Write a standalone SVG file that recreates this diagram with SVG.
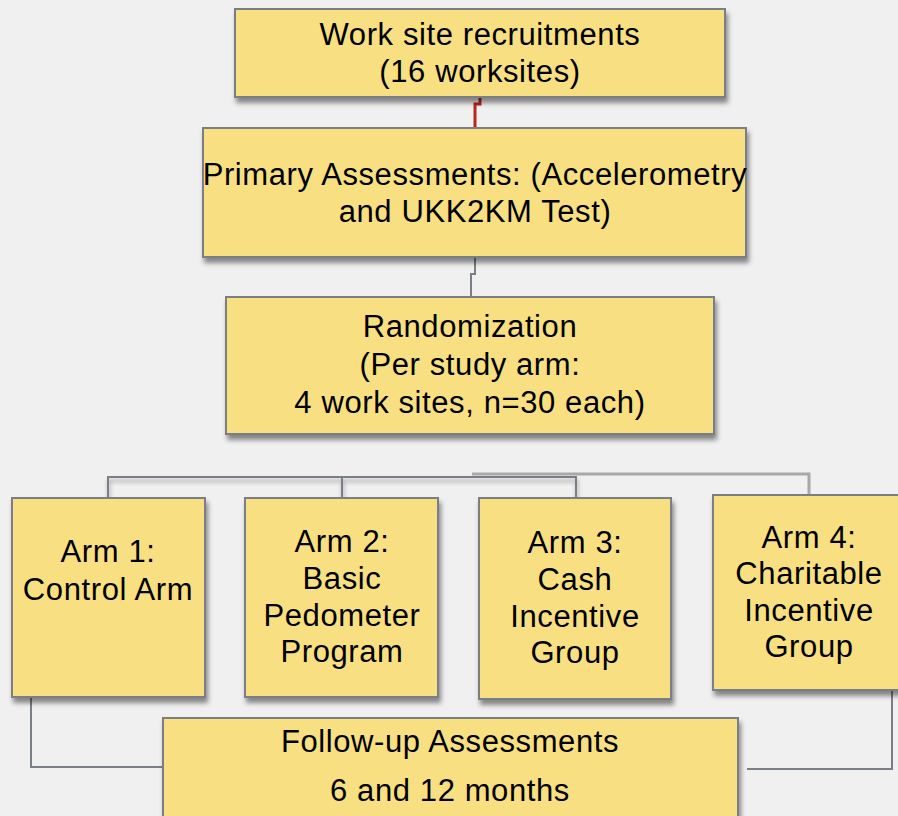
<svg xmlns="http://www.w3.org/2000/svg" width="898" height="816" viewBox="0 0 898 816">
  <defs>
    <filter id="shadow" x="-10%" y="-10%" width="130%" height="140%">
      <feDropShadow dx="2" dy="5" stdDeviation="2.5" flood-color="#000" flood-opacity="0.45"/>
    </filter>
    <filter id="lineShadow" x="-20%" y="-20%" width="140%" height="160%">
      <feDropShadow dx="1" dy="4" stdDeviation="2" flood-color="#000" flood-opacity="0.35"/>
    </filter>
  </defs>
  <style>
    .box { fill: #f8e082; stroke: #7a7e86; stroke-width: 2; filter: url(#shadow); }
    .label { font-family: "Liberation Sans", Arial, sans-serif; font-size: 31px; letter-spacing: 0.6px; fill: #000; text-anchor: middle; }
    .wire { fill: none; stroke: #7a7e86; stroke-width: 2; }
    .wire-light { fill: none; stroke: #a8a8a8; stroke-width: 3; }
  </style>
  <rect width="898" height="816" fill="#f0f0f0"/>

  <!-- connectors -->
  <g id="connectors">
    <path d="M480 97 V104 H475 V128" fill="none" stroke="#b8281c" stroke-width="3"/>
    <path class="wire" d="M475 257 V274 H471 V297" stroke-width="2.5"/>
    <path class="wire" d="M472 434 V477" stroke-width="3.5" filter="url(#lineShadow)"/>
    <path class="wire" d="M108 498 V477 H576 V498 M342 477 V498" filter="url(#lineShadow)"/>
    <path class="wire-light" d="M472 474 H809 V495"/>
    <path class="wire" d="M31 697 V767 H163"/>
    <path class="wire" d="M892 690 V769 H747"/>
  </g>

  <g id="recruit">
    <rect class="box" x="235" y="9" width="490" height="88"/>
    <text class="label" x="480" y="45">Work site recruitments</text>
    <text class="label" x="480" y="82">(16 worksites)</text>
  </g>

  <g id="primary">
    <rect class="box" x="203" y="128" width="543" height="129"/>
    <text class="label" x="475" y="185">Primary Assessments: (Accelerometry</text>
    <text class="label" x="475" y="222">and UKK2KM Test)</text>
  </g>

  <g id="randomization">
    <rect class="box" x="226" y="297" width="488" height="137"/>
    <text class="label" x="470" y="337">Randomization</text>
    <text class="label" x="470" y="375">(Per study arm:</text>
    <text class="label" x="470" y="413">4 work sites, n=30 each)</text>
  </g>

  <g id="arm1">
    <rect class="box" x="12" y="498" width="193" height="199"/>
    <text class="label" x="108" y="562">Arm 1:</text>
    <text class="label" x="108" y="600">Control Arm</text>
  </g>

  <g id="arm2">
    <rect class="box" x="245" y="498" width="193" height="199"/>
    <text class="label" x="342" y="552">Arm 2:</text>
    <text class="label" x="342" y="589">Basic</text>
    <text class="label" x="342" y="626">Pedometer</text>
    <text class="label" x="342" y="662">Program</text>
  </g>

  <g id="arm3">
    <rect class="box" x="479" y="498" width="192" height="201"/>
    <text class="label" x="575" y="553">Arm 3:</text>
    <text class="label" x="575" y="590">Cash</text>
    <text class="label" x="575" y="627">Incentive</text>
    <text class="label" x="575" y="663">Group</text>
  </g>

  <g id="arm4">
    <rect class="box" x="713" y="495" width="194" height="195"/>
    <text class="label" x="809" y="548">Arm 4:</text>
    <text class="label" x="809" y="584">Charitable</text>
    <text class="label" x="809" y="621">Incentive</text>
    <text class="label" x="809" y="657">Group</text>
  </g>

  <g id="followup">
    <rect class="box" x="163" y="718" width="575" height="110"/>
    <text class="label" x="450" y="752">Follow-up Assessments</text>
    <text class="label" x="450" y="801">6 and 12 months</text>
  </g>
</svg>
